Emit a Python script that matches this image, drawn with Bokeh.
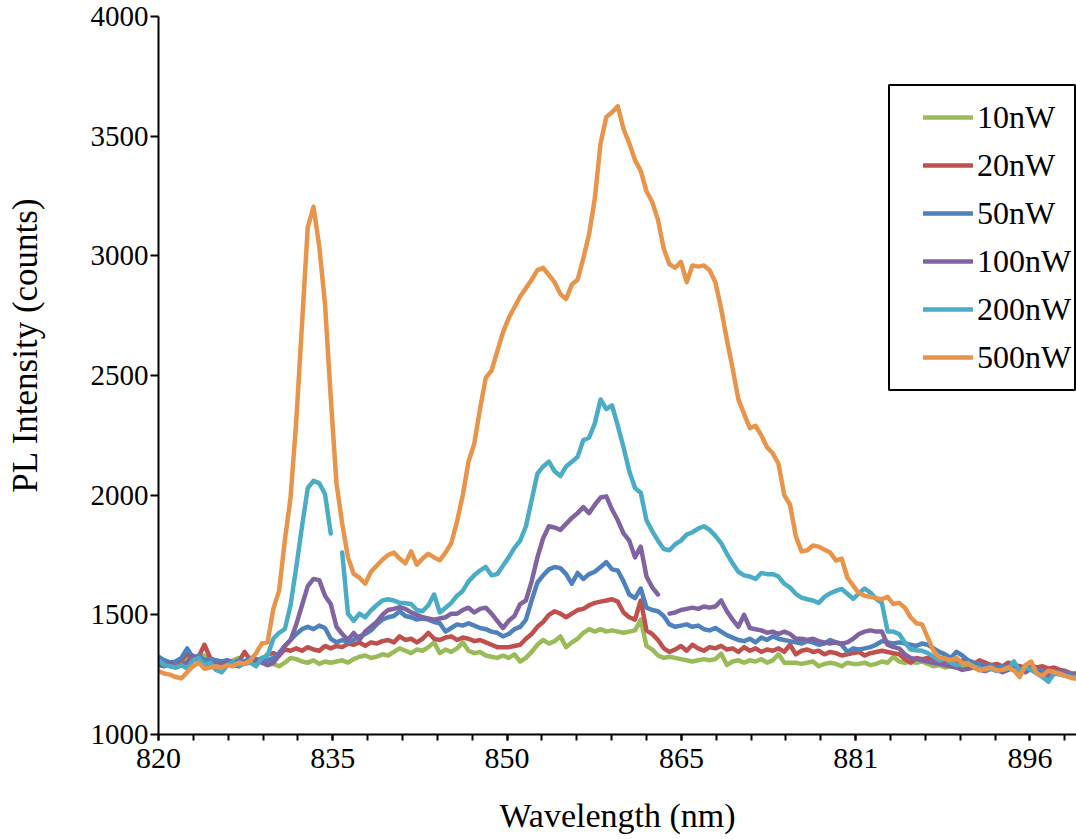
import numpy as np
from bokeh.plotting import figure
from bokeh.models import Range1d, FixedTicker, Legend, LegendItem, BoxAnnotation
from bokeh.embed import file_html
from bokeh.resources import INLINE

# ---------------- data ----------------
WAVELENGTH_NM = np.arange(820.0, 900.01, 0.5)   # spectrometer sampling grid
NAN = float("nan")

I_10NW = [
    1300, 1310, 1300, 1295, 1300, 1325, 1310, 1320, 1330, 1305,
    1300, 1290, 1300, 1310, 1320, 1300, 1305, 1300, 1305, 1290,
    1295, 1285, 1300, 1320, 1315, 1305, 1300, 1310, 1295, 1305,
    1300, 1305, 1310, 1300, 1315, 1325, 1330, 1320, 1325, 1335,
    1330, 1345, 1360, 1350, 1340, 1355, 1350, 1365, 1385, 1340,
    1355, 1345, 1360, 1385, 1350, 1340, 1345, 1330, 1325, 1320,
    1330, 1320, 1335, 1305, 1320, 1345, 1375, 1395, 1380, 1390,
    1410, 1365, 1385, 1400, 1425, 1440, 1430, 1440, 1430, 1435,
    1430, 1425, 1430, 1435, 1480, 1370, 1355, 1330, 1320, 1325,
    1320, 1315, 1310, 1305, 1310, 1315, 1310, 1315, 1338, 1290,
    1305, 1310, 1300, 1310, 1305, 1315, 1300, 1310, 1335, 1300,
    1300, 1300, 1295, 1300, 1305, 1285, 1295, 1300, 1295, 1285,
    1300, 1295, 1295, 1300, 1290, 1295, 1305, 1300, 1325, 1305,
    1300, 1305, 1300, 1305, 1295, 1285, 1290, 1280, 1285, 1280,
    1275, 1285, 1280, 1270, 1275, 1280, 1270, 1275, 1280, 1270,
    1265, 1270, 1275, 1260, 1265, 1255, 1260, 1255, 1250, 1245,
    1245,
]

I_20NW = [
    1305, 1300, 1295, 1295, 1310, 1340, 1310, 1325, 1375, 1320,
    1305, 1300, 1310, 1300, 1305, 1345, 1310, 1315, 1310, 1335,
    1340, 1330, 1355, 1350, 1360, 1350, 1365, 1355, 1350, 1370,
    1360, 1370, 1365, 1380, 1375, 1385, 1370, 1385, 1380, 1390,
    1395, 1385, 1410, 1395, 1400, 1385, 1400, 1425, 1400, 1395,
    1405, 1410, 1395, 1405, 1400, 1390, 1395, 1385, 1375, 1365,
    1365, 1365, 1370, 1375, 1400, 1420, 1450, 1470, 1500, 1515,
    1505, 1490, 1505, 1520, 1525, 1540, 1550, 1555, 1560, 1565,
    1555, 1510, 1490, 1480, 1560, 1435, 1420, 1395, 1360, 1345,
    1355, 1370, 1350, 1375, 1360, 1350, 1365, 1360, 1370, 1355,
    1360, 1345, 1365, 1350, 1360, 1345, 1355, 1350, 1360, 1345,
    1375, 1335, 1350, 1355, 1345, 1350, 1335, 1345, 1340, 1330,
    1335, 1340, 1345, 1330, 1340, 1345, 1350, 1345, 1340, 1335,
    1315, 1300, 1320, 1315, 1320, 1310, 1315, 1305, 1300, 1295,
    1310, 1300, 1295, 1310, 1300, 1290, 1295, 1285, 1300, 1290,
    1285, 1280, 1290, 1280, 1285, 1275, 1280, 1270, 1265, 1255,
    1255,
]

I_50NW = [
    1325, 1310, 1300, 1305, 1320, 1360, 1320, 1330, 1310, 1315,
    1310, 1305, 1310, 1300, 1310, 1305, 1320, 1300, 1320, 1310,
    1320, 1340, 1370, 1395, 1420, 1440, 1450, 1440, 1455, 1445,
    1400, 1385, 1395, 1385, 1395, 1410, 1420, 1435, 1460, 1480,
    1490, 1495, 1515, 1495, 1490, 1480, 1485, 1480, 1470, 1465,
    1430, 1445, 1460, 1455, 1465, 1455, 1445, 1440, 1430, 1425,
    1410, 1420, 1440, 1450, 1480, 1560, 1635, 1665, 1690, 1700,
    1695, 1670, 1630, 1675, 1650, 1670, 1680, 1700, 1720, 1690,
    1685, 1640, 1585, 1570, 1610, 1530, 1520, 1515, 1495, 1460,
    1450, 1455, 1460, 1450, 1455, 1440, 1435, 1445, 1430, 1415,
    1405, 1395, 1390, 1400, 1385, 1405, 1395, 1410, 1400, 1395,
    1390, 1385, 1380, 1390, 1385, 1375, 1380, 1395, 1385, 1375,
    1345, 1360, 1355, 1360, 1365, 1375, 1390, 1385, 1380, 1385,
    1380, 1375, 1370, 1380, 1375, 1360, 1345, 1335, 1320, 1345,
    1330, 1310, 1300, 1295, 1285, 1290, 1280, 1285, 1280, 1290,
    1275, 1270, 1280, 1270, 1265, 1260, 1265, 1255, 1260, 1250,
    1250,
]

I_100NW = [
    1290, 1285, 1300, 1280, 1290, 1300, 1330, 1310, 1290, 1300,
    1290, 1295, 1300, 1290, 1285, 1300, 1300, 1310, 1300, 1290,
    1300, 1330, 1370, 1395, 1460, 1540, 1620, 1650, 1645, 1580,
    1545, 1450, 1420, 1395, 1425, 1395, 1430, 1450, 1470, 1500,
    1520, 1525, 1532, 1525, 1510, 1500, 1490, 1485, 1480, 1485,
    1490, 1505, 1505, 1520, 1530, 1510, 1525, 1530, 1505, 1475,
    1445, 1475, 1495, 1545, 1560, 1640, 1740, 1820, 1870, 1865,
    1855, 1880, 1905, 1925, 1950, 1925, 1960, 1990, 1995, 1940,
    1895, 1840, 1810, 1740, 1785, 1660, 1615, 1585, NAN, 1505,
    1510, 1520, 1525, 1530, 1525, 1535, 1530, 1535, 1560, 1515,
    1480, 1450, 1500, 1445, 1440, 1435, 1425, 1430, 1420, 1430,
    1420, 1400, 1400, 1395, 1400, 1390, 1385, 1380, 1385, 1380,
    1385, 1400, 1420, 1430, 1435, 1430, 1430, 1375, 1365, 1360,
    1335, 1320, 1315, 1310, 1305, 1300, 1295, 1290, 1285, 1280,
    1270, 1275, 1280, 1270, 1265, 1275, 1270, 1260, 1270, 1280,
    1265, 1260, 1275, 1260, 1250, 1245, 1255, 1260, 1250, 1245,
    1245,
]

I_200NW = [
    1310, 1290, 1285, 1280, 1290, 1275, 1310, 1320, 1290, 1300,
    1270, 1260, 1290, 1300, 1290, 1295, 1300, 1285, 1320, 1330,
    1400, 1425, 1440, 1540, 1700, 1870, 2030, 2060, 2050, 2005,
    1840, NAN, 1760, 1505, 1475, 1505, 1490, 1518, 1540, 1560,
    1565, 1560, 1550, 1548, 1545, 1520, 1515, 1540, 1585, 1510,
    1530, 1550, 1580, 1600, 1640, 1665, 1685, 1700, 1665, 1670,
    1705, 1740, 1780, 1810, 1870, 1980, 2090, 2120, 2140, 2100,
    2080, 2120, 2140, 2160, 2230, 2240, 2300, 2400, 2360, 2375,
    2290, 2200, 2100, 2030, 2010, 1895, 1850, 1810, 1775, 1770,
    1795, 1810, 1835, 1845, 1860, 1870, 1855, 1830, 1800, 1755,
    1715, 1680, 1665, 1660, 1650, 1675, 1670, 1670, 1660, 1630,
    1614, 1588, 1572, 1565, 1560, 1550, 1575, 1590, 1600, 1608,
    1588, 1567, 1590, 1610, 1593, 1567, 1550, 1430, 1430, 1420,
    1385, 1355, 1352, 1350, 1340, 1325, 1310, 1315, 1300, 1290,
    1295, 1300, 1285, 1275, 1270, 1275, 1265, 1270, 1275, 1305,
    1265, 1280, 1270, 1255, 1240, 1220, 1255, 1250, 1245, 1240,
    1240,
]

I_500NW = [
    1265, 1255, 1250, 1240, 1235, 1260, 1285, 1300, 1275, 1280,
    1285, 1280, 1290, 1285, 1300, 1295, 1310, 1340, 1380, 1385,
    1525, 1600, 1810, 1990, 2310, 2716, 3120, 3205, 3040, 2800,
    2409, 2050, 1881, 1741, 1671, 1655, 1630, 1680, 1705, 1730,
    1750, 1760, 1735, 1715, 1765, 1710, 1735, 1755, 1740, 1728,
    1760, 1800, 1890, 2000, 2140, 2215, 2360, 2490, 2520, 2600,
    2680, 2740, 2785, 2830, 2865, 2900, 2940, 2950, 2920, 2890,
    2840, 2820, 2880, 2900, 2990, 3090, 3240, 3470, 3580, 3600,
    3625, 3530, 3470, 3400, 3355, 3270, 3225, 3150, 3030, 2965,
    2950, 2975, 2890, 2960, 2955, 2960, 2940, 2890, 2780, 2650,
    2530, 2400, 2340, 2280, 2290, 2250, 2200, 2175, 2130, 2000,
    1960, 1830, 1765, 1770, 1790, 1785, 1772, 1760, 1727, 1735,
    1655, 1622, 1590, 1580, 1575, 1570, 1565, 1575, 1545, 1550,
    1530, 1490, 1465, 1460, 1405, 1350, 1322, 1318, 1310, 1320,
    1298, 1296, 1282, 1268, 1275, 1280, 1268, 1270, 1280, 1267,
    1240, 1290, 1305, 1254, 1246, 1267, 1260, 1254, 1245, 1236,
    1232,
]

SERIES_LABELS = ["10nW", "20nW", "50nW", "100nW", "200nW", "500nW"]
SERIES_VALUES = [I_10NW, I_20NW, I_50NW, I_100NW, I_200NW, I_500NW]
COLORS = ["#9BBB59", "#C0504D", "#4F81BD", "#8064A2", "#4BACC6", "#E8944A"]

X_TICKS = [820, 835.18, 850.36, 865.54, 880.72, 895.9]
X_TICK_LABELS = ["820", "835", "850", "865", "881", "896"]
Y_TICKS = [1000, 1500, 2000, 2500, 3000, 3500, 4000]

for s in SERIES_VALUES:
    assert len(s) == len(WAVELENGTH_NM), len(s)

# ---------------- layout ----------------
W, H = 1076, 839
LEFT, TOP, BOTTOM = 158, 16, 105
X0, X1 = 820.0, 899.95
Y0, Y1 = 1000, 4000
SERIF = "Liberation Serif"

p = figure(width=W, height=H, output_backend="svg", toolbar_location=None,
           x_range=Range1d(X0, X1), y_range=Range1d(Y0, Y1),
           min_border_left=LEFT, min_border_right=0, min_border_top=TOP,
           min_border_bottom=BOTTOM)
p.xgrid.visible = False
p.ygrid.visible = False
p.outline_line_color = None
p.background_fill_color = "white"
p.border_fill_color = "white"

renderers = []
for vals, col in zip(SERIES_VALUES, COLORS):
    r = p.line(WAVELENGTH_NM, np.array(vals, dtype=float), line_color=col,
               line_width=4.5, line_join="round", line_cap="round")
    renderers.append(r)

# x axis
step = (X_TICKS[1] - X_TICKS[0]) / 5
minor = [X0 + k * step for k in range(0, 27)]
xa = p.xaxis[0]
xa.ticker = FixedTicker(ticks=X_TICKS, minor_ticks=minor)
xa.major_label_overrides = {t: l for t, l in zip(X_TICKS, X_TICK_LABELS)}
xa.axis_line_width = 2
xa.axis_line_color = "black"
xa.major_tick_line_width = 2
xa.minor_tick_line_width = 2
xa.major_tick_out = 6
xa.major_tick_in = 0
xa.minor_tick_out = 6
xa.minor_tick_in = 0
xa.major_label_text_font = SERIF
xa.major_label_text_font_size = "30px"
xa.major_label_text_color = "black"
xa.major_label_standoff = 8
xa.axis_label = "Wavelength (nm)"
xa.axis_label_text_font = SERIF
xa.axis_label_text_font_size = "34px"
xa.axis_label_text_font_style = "normal"
xa.axis_label_text_color = "black"
xa.axis_label_standoff = 26

# y axis
ya = p.yaxis[0]
ya.ticker = FixedTicker(ticks=Y_TICKS)
ya.axis_line_width = 2
ya.axis_line_color = "black"
ya.major_tick_line_width = 2
ya.major_tick_out = 8
ya.major_tick_in = 0
ya.minor_tick_line_color = None
ya.major_label_text_font = SERIF
ya.major_label_text_font_size = "29px"
ya.major_label_text_color = "black"
ya.major_label_standoff = 2
# leading no-break spaces lift the (frame-centred) title to where the
# reference has it
ya.axis_label = "\u00a0" * 7 + "PL Intensity (counts)"
ya.axis_label_text_font = SERIF
ya.axis_label_text_font_size = "35px"
ya.axis_label_text_font_style = "normal"
ya.axis_label_text_color = "black"
ya.axis_label_standoff = 43

# legend frame (pixel positions converted through the axis ranges)
FW = W - LEFT
FH = 734 - TOP
def px_x(px):
    return X0 + (px - LEFT) * (X1 - X0) / FW
def px_y(py):
    return Y1 - (py - TOP) * (Y1 - Y0) / FH

box = BoxAnnotation(left=px_x(888.5), right=px_x(1074.5), top=px_y(84.5),
                    bottom=px_y(389.5), fill_alpha=0, line_color="black",
                    line_width=2, line_alpha=1)
p.add_layout(box)

legend = Legend(items=[LegendItem(label=l, renderers=[r])
                       for l, r in zip(SERIES_LABELS, renderers)],
                location=(765, 357), padding=0, margin=0, spacing=8,
                glyph_width=50, glyph_height=40, label_height=40,
                label_standoff=4, label_text_font=SERIF,
                label_text_font_size="32px", label_text_color="black",
                border_line_alpha=0, background_fill_alpha=0)
p.add_layout(legend)

open("out.html", "w").write(file_html(p, INLINE))
